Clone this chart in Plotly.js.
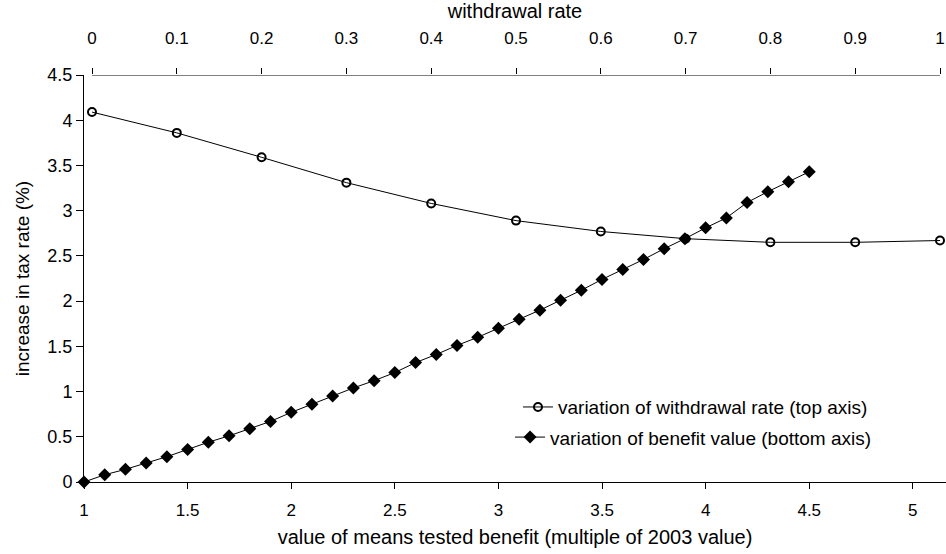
<!DOCTYPE html>
<html>
<head>
<meta charset="utf-8">
<script src="https://cdn.plot.ly/plotly-3.0.1.min.js"></script>
<style>html,body{margin:0;padding:0;background:#fff;}#chart{width:946px;height:554px;}</style>
</head>
<body>
<div id="chart"></div>
<script>
// withdrawal-rate variation (top axis)
var withdrawalRate = [0, 0.1, 0.2, 0.3, 0.4, 0.5, 0.6, 0.7, 0.8, 0.9, 1.0];
var taxIncreaseByRate = [4.09, 3.86, 3.59, 3.31, 3.08, 2.89, 2.77, 2.69, 2.65, 2.65, 2.67];

// benefit-value variation (bottom axis)
var benefitMultiple = [1.0, 1.1, 1.2, 1.3, 1.4, 1.5, 1.6, 1.7, 1.8, 1.9,
                       2.0, 2.1, 2.2, 2.3, 2.4, 2.5, 2.6, 2.7, 2.8, 2.9,
                       3.0, 3.1, 3.2, 3.3, 3.4, 3.5, 3.6, 3.7, 3.8, 3.9,
                       4.0, 4.1, 4.2, 4.3, 4.4, 4.5];
var taxIncreaseByBenefit = [0.00, 0.08, 0.14, 0.21, 0.28, 0.36, 0.44, 0.51, 0.59, 0.67,
                            0.77, 0.86, 0.95, 1.04, 1.12, 1.21, 1.32, 1.41, 1.51, 1.60,
                            1.70, 1.80, 1.90, 2.01, 2.12, 2.24, 2.35, 2.46, 2.58, 2.69,
                            2.81, 2.92, 3.09, 3.21, 3.32, 3.43];

var seriesNames = ["variation of withdrawal rate (top axis)", "variation of benefit value (bottom axis)"];

var FONT = "Arial, 'Liberation Sans', sans-serif";

var traces = [
  {
    x: withdrawalRate, y: taxIncreaseByRate, xaxis: 'x2', yaxis: 'y',
    type: 'scatter', mode: 'lines+markers', name: seriesNames[0],
    line: {color: '#000', width: 1},
    marker: {symbol: 'circle-open', size: 8, color: '#000', line: {width: 2, color: '#000'}},
    cliponaxis: false, legend: 'legend'
  },
  {
    x: benefitMultiple, y: taxIncreaseByBenefit, xaxis: 'x', yaxis: 'y',
    type: 'scatter', mode: 'lines+markers', name: seriesNames[1],
    line: {color: '#000', width: 1},
    marker: {symbol: 'diamond', size: 10, color: '#000'},
    cliponaxis: false, legend: 'legend2'
  }
];

var layout = {
  width: 946, height: 554,
  margin: {l: 84, r: 0, t: 75, b: 72},
  paper_bgcolor: '#fff', plot_bgcolor: '#fff',
  font: {family: FONT, color: '#000', size: 17},
  showlegend: true,
  xaxis: {
    range: [1, 5.16], dtick: 0.5, tick0: 1,
    showgrid: false, zeroline: false,
    showline: true, linecolor: '#000', linewidth: 1,
    ticks: 'outside', ticklen: 6, tickcolor: '#000',
    tickfont: {size: 17}, ticklabelstandoff: 7,
    title: {text: 'value of means tested benefit (multiple of 2003 value)', font: {size: 20}, standoff: 10}
  },
  xaxis2: {
    overlaying: 'x', side: 'top', anchor: 'y',
    range: [-0.00943, 1.00708], dtick: 0.1, tick0: 0,
    showgrid: false, zeroline: false, showline: false,
    ticks: 'outside', ticklen: 6, tickcolor: '#000',
    tickfont: {size: 17}, ticklabelstandoff: 17,
    title: {text: 'withdrawal rate', font: {size: 20}, standoff: 6}
  },
  yaxis: {
    range: [0, 4.5], dtick: 0.5, tick0: 0,
    showgrid: false, zeroline: false,
    showline: true, linecolor: '#000', linewidth: 1,
    ticks: 'outside', ticklen: 7, tickcolor: '#000',
    tickfont: {size: 18},
    title: {text: 'increase in tax rate (%)', font: {size: 19}, standoff: 12}
  },
  shapes: [
    {type: 'line', xref: 'x2', yref: 'y', x0: 0, x1: 1, y0: 4.5, y1: 4.5, line: {color: '#000', width: 1}}
  ],
  legend: {x: 0.9153, y: 0.184, xanchor: 'right', yanchor: 'middle', bgcolor: 'rgba(0,0,0,0)', font: {size: 19}},
  legend2: {x: 0.92, y: 0.11, xanchor: 'right', yanchor: 'middle', bgcolor: 'rgba(0,0,0,0)', font: {size: 19}}
};

Plotly.newPlot('chart', traces, layout, {displayModeBar: false, staticPlot: true});
</script>
</body>
</html>
